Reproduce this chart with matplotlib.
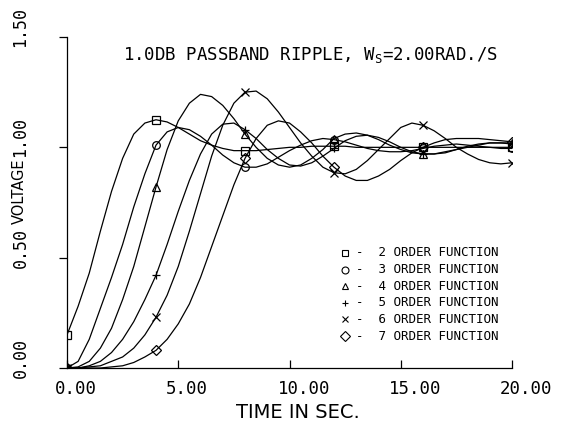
import numpy as np
import matplotlib
matplotlib.use('Agg')
import matplotlib.pyplot as plt
from matplotlib.transforms import ScaledTranslation

plt.rcParams['mathtext.fontset'] = 'custom'
plt.rcParams['mathtext.rm'] = 'DejaVu Sans Mono'

# time axis (sec), every 0.5 s
t = np.arange(0, 20.5, 0.5)

# step responses
v2 = [0.15, 0.28, 0.43, 0.62, 0.80, 0.95, 1.06, 1.11, 1.125, 1.115,
      1.09, 1.06, 1.03, 1.01, 0.995, 0.985, 0.985, 0.985, 0.99, 0.995,
      1.0, 1.0, 1.005, 1.005, 1.005, 1.005, 1.0, 1.0, 1.0, 1.0,
      1.0, 1.0, 1.0, 1.0, 1.0, 1.0, 1.0, 1.0, 1.0, 1.0, 1.0]
v3 = [0.0, 0.03, 0.13, 0.27, 0.41, 0.56, 0.73, 0.88, 1.01, 1.07,
      1.09, 1.08, 1.05, 1.01, 0.965, 0.93, 0.91, 0.91, 0.925, 0.955,
      0.985, 1.01, 1.03, 1.04, 1.035, 1.025, 1.01, 0.995, 0.985, 0.98,
      0.98, 0.985, 0.995, 1.005, 1.01, 1.015, 1.01, 1.005, 1.0, 0.995, 0.995]
v4 = [0.0, 0.005, 0.03, 0.09, 0.18, 0.31, 0.46, 0.64, 0.82, 0.99,
      1.12, 1.20, 1.24, 1.23, 1.19, 1.13, 1.06, 1.0, 0.95, 0.92,
      0.91, 0.92, 0.95, 0.99, 1.04, 1.06, 1.065, 1.055, 1.035, 1.01,
      0.99, 0.975, 0.97, 0.97, 0.975, 0.99, 1.0, 1.01, 1.02, 1.02, 1.02]
v5 = [0.0, 0.0, 0.01, 0.03, 0.07, 0.13, 0.21, 0.31, 0.42, 0.56,
      0.71, 0.85, 0.97, 1.06, 1.105, 1.11, 1.08, 1.04, 0.99, 0.95,
      0.92, 0.915, 0.93, 0.96, 0.995, 1.03, 1.05, 1.055, 1.045, 1.025,
      1.0, 0.98, 0.97, 0.97, 0.98, 0.99, 1.005, 1.015, 1.02, 1.02, 1.015]
v6 = [0.0, 0.0, 0.005, 0.01, 0.03, 0.05, 0.09, 0.15, 0.23, 0.33,
      0.46, 0.62, 0.79, 0.96, 1.10, 1.20, 1.25, 1.255, 1.22, 1.16,
      1.09, 1.02, 0.96, 0.91, 0.885, 0.88, 0.90, 0.94, 0.99, 1.04,
      1.09, 1.11, 1.10, 1.075, 1.04, 1.0, 0.97, 0.945, 0.93, 0.925, 0.93]
v7 = [0.0, 0.0, 0.0, 0.0, 0.005, 0.01, 0.025, 0.05, 0.08, 0.13,
      0.20, 0.29, 0.41, 0.55, 0.69, 0.83, 0.95, 1.04, 1.10, 1.12,
      1.11, 1.07, 1.02, 0.96, 0.91, 0.87, 0.85, 0.85, 0.87, 0.90,
      0.94, 0.975, 1.0, 1.02, 1.035, 1.04, 1.04, 1.04, 1.035, 1.03, 1.025]

series = [v2, v3, v4, v5, v6, v7]
orders = [2, 3, 4, 5, 6, 7]
markers = ['s', 'o', '^', '+', 'x', 'D']

xticks = [0, 5, 10, 15, 20]
yticks = [0, 0.5, 1.0, 1.5]

fig = plt.figure(figsize=(5.76, 4.24), dpi=100)
ax = fig.add_axes([67/576, 56/424, 445/576, 331/424])

for v, m in zip(series, markers):
    ax.plot(t, v, color='k', lw=0.9, marker=m, markevery=8, ms=5.5,
            mfc='none', mec='k', mew=0.9)

ax.set_xlim(0, 20)
ax.set_ylim(0, 1.5)
ax.spines['top'].set_visible(False)
ax.spines['right'].set_visible(False)
ax.spines['left'].set_linewidth(0.9)
ax.spines['bottom'].set_linewidth(0.9)

ax.set_xticks(xticks)
ax.set_xticklabels(['%.2f' % x for x in xticks], family='DejaVu Sans Mono',
                   fontsize=12.5, ha='left')
ax.set_yticks(yticks)
ax.set_yticklabels(['%.2f' % y for y in yticks], family='DejaVu Sans Mono',
                   fontsize=12, rotation=90, va='bottom')
ax.tick_params(axis='x', direction='in', length=6, width=0.9, pad=9)
ax.tick_params(axis='y', direction='out', length=6, width=0.9, pad=21)

for lab in ax.get_xticklabels():
    lab.set_transform(lab.get_transform() + ScaledTranslation(-12/100, 0, fig.dpi_scale_trans))
for lab in ax.get_yticklabels():
    lab.set_transform(lab.get_transform() + ScaledTranslation(0, -10/100, fig.dpi_scale_trans))

ax.set_xlabel('TIME IN SEC.', fontsize=14)
ax.set_ylabel('VOLTAGE', fontsize=10.5)
ax.xaxis.set_label_coords(0.519, -0.106)
ax.yaxis.set_label_coords(-0.09, 0.535)

ax.text(0.126, 0.946, r'1.0DB PASSBAND RIPPLE, W$_\mathrm{S}$=2.00RAD./S',
        transform=ax.transAxes, family='DejaVu Sans Mono', fontsize=12.5,
        ha='left', va='center')

# legend drawn by hand, plotter style
for i, (n, m) in enumerate(zip(orders, markers)):
    yy = (368 - (253 + 16.6 * i)) / 331
    ax.plot([(345 - 67) / 445], [yy], transform=ax.transAxes, marker=m,
            ms=5, mfc='none', mec='k', mew=0.8, color='k', clip_on=False)
    ax.text((356 - 67) / 445, yy, '-  %d ORDER FUNCTION' % n,
            transform=ax.transAxes, family='DejaVu Sans Mono', fontsize=9,
            ha='left', va='center')

fig.savefig('out.png', dpi=100)
